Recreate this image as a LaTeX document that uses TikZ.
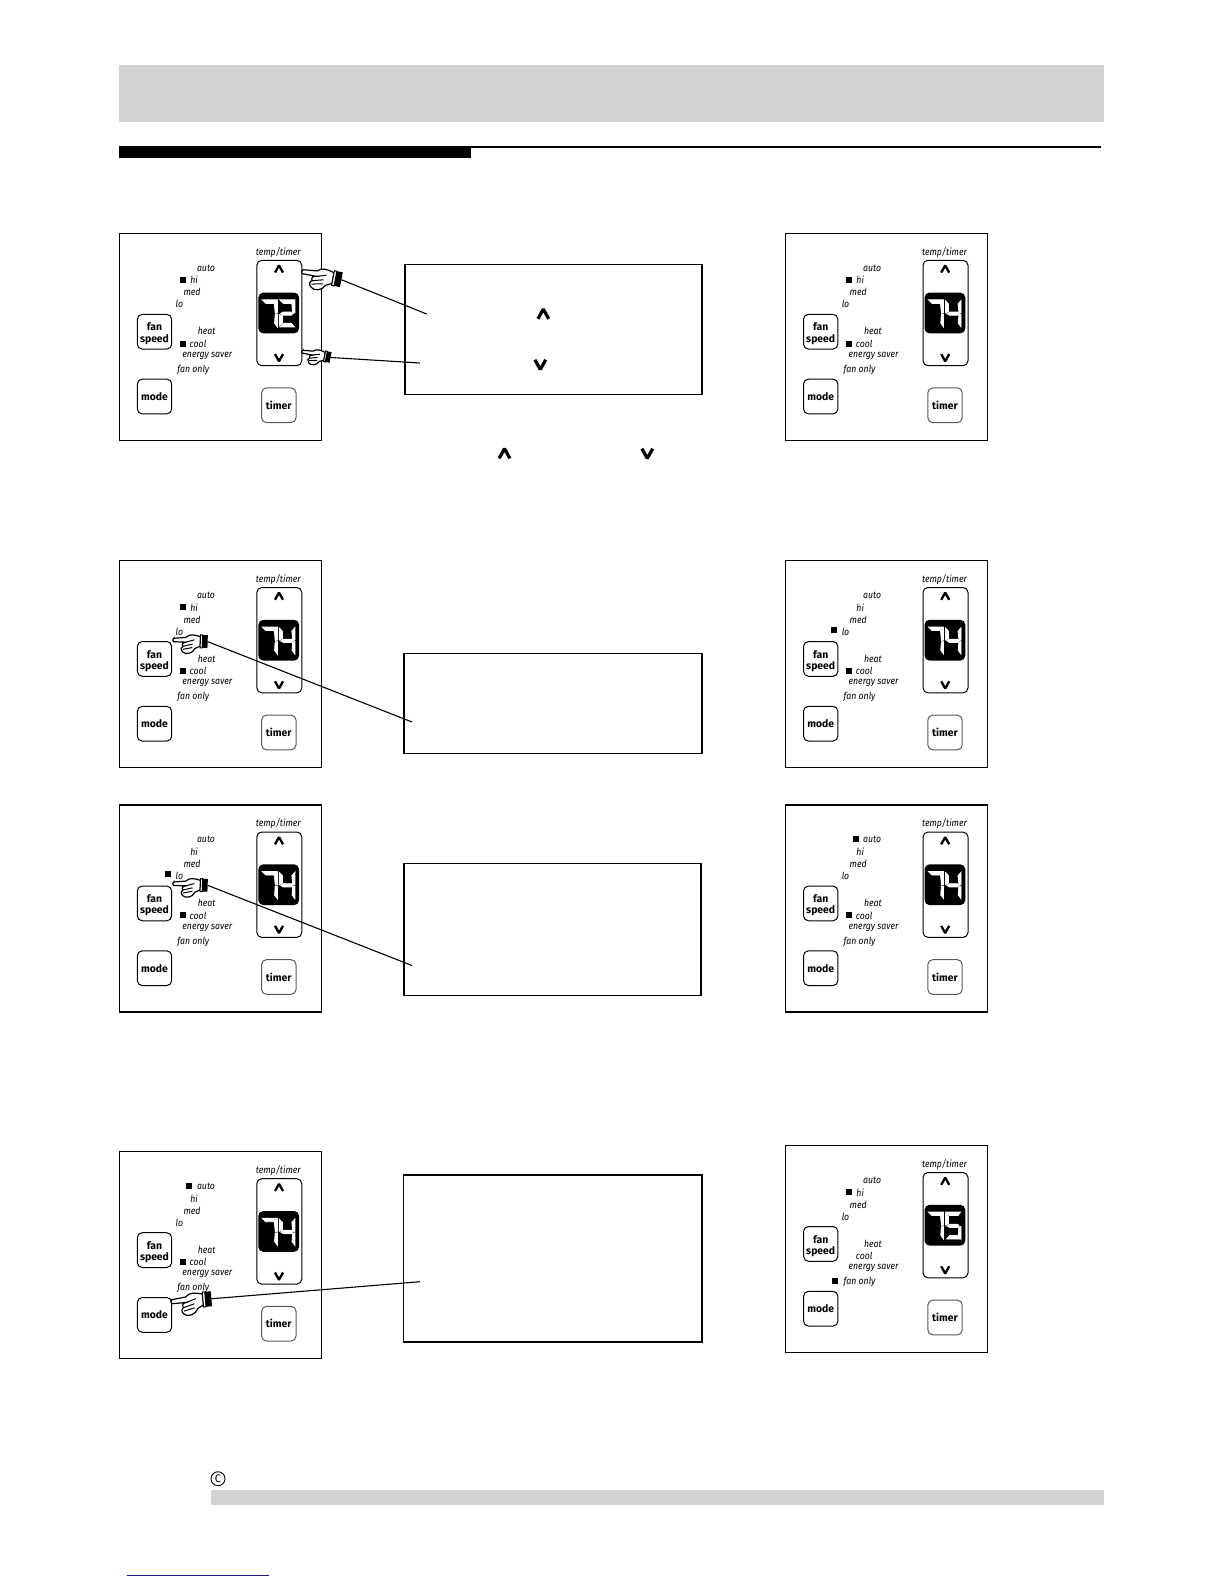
\documentclass[tikz,border=0pt]{standalone}
\usepackage{fontspec}
\setmainfont{Fira Sans}
\newfontface\panelfont{Fira Sans Italic}[FakeStretch=0.89]
\usepackage{tikz}
\usetikzlibrary{positioning,calc}
\definecolor{bargray}{HTML}{D1D2D4}
\definecolor{linkblue}{HTML}{1A1A8C}
% segments of one lcd digit
\newcommand{\lcdsega}{\fill[lcdseg] (0.5,0) -- (15,0) -- (12.5,3.5) -- (4,3.5) -- cycle;}
\newcommand{\lcdsegb}{\fill[lcdseg] (15.5,0.8) -- (15.5,13) -- (13.5,13.6) -- (12.6,4.2) -- cycle;}
\newcommand{\lcdsegc}{\fill[lcdseg] (15.5,14.6) -- (15.5,27) -- (12.8,23.4) -- (13.4,15) -- cycle;}
\newcommand{\lcdsegd}{\fill[lcdseg] (1,27) -- (15,27) -- (11.8,23.6) -- (4,23.6) -- cycle;}
\newcommand{\lcdsege}{\fill[lcdseg] (0,14.8) -- (0,26.2) -- (3,23) -- (3,16) -- cycle;}
\newcommand{\lcdsegf}{\fill[lcdseg] (0,1) -- (3,4.2) -- (3,11.6) -- (0,13) -- cycle;}
\newcommand{\lcdsegg}{\fill[lcdseg] (1.4,13.8) -- (4,12.2) -- (12,12.2) -- (13.4,13.8) -- (12,15.4) -- (4,15.4) -- cycle;}
\newcommand{\digtwo}{a,b,g,e,d}
\newcommand{\digfour}{f,g,b,c}
\newcommand{\digfive}{a,f,g,c,d}
\newcommand{\digseven}{a,b,c}
% one control panel: origin, name, digits, fan dot, mode dot
\newcommand{\ctrlpanel}[6]{
\begin{scope}[shift={(#1)},name prefix=#2-]
\node[panelbox] (frame) at (0,0) {};
\node[lab] (tt) at (159,19) {temp/timer};
\node[updown] (ud) at (160,79.7) {};
\node[display] (disp) at (159.4,79.7) {};
\pic[line width=1.15pt] at (159.7,35.7) {upmark};
\pic[line width=1.15pt] at (159.7,124.4) {downmark};
\begin{scope}[shift={(142.5,66.5)}]
\foreach \s in #3 {\csname lcdseg\s\endcsname}
\end{scope}
\begin{scope}[shift={(160,66.5)}]
\foreach \s in #4 {\csname lcdseg\s\endcsname}
\end{scope}
\node[lab] (auto) at (86.7,34.7) {auto};
\node[lab] (hi) at (74.7,46.7) {hi};
\node[lab] (med) at (72.7,59) {med};
\node[lab] (lo) at (60,71) {lo};
\node[lab] (heat) at (87.4,98) {heat};
\node[lab] (cool) at (78.7,110.4) {cool};
\node[lab] (saver) at (88,122.7) {energy saver};
\node[lab] (only) at (74,136.4) {fan only};
\node[btn] (fan) at (35.2,98.4) {\rule{0pt}{6pt}fan\\speed};
\node[btn] (mode) at (35.2,163.2) {mode};
\node[btn,draw=black!65] (timer) at (159.5,172) {timer};
\fill[black] ($(#5)+(-3,-3)$) rectangle ($(#5)+(3,3)$);
\fill[black] ($(#6)+(-3,-3)$) rectangle ($(#6)+(3,3)$);
\end{scope}
}
\tikzset{
  panelbox/.style={draw,line width=0.6pt,anchor=north west,minimum width=100.9pt,minimum height=103.5pt,outer sep=0pt},
  infobox/.style={draw,line width=0.9pt,anchor=north west,outer sep=0pt},
  updown/.style={draw,line width=0.5pt,rounded corners=2.5pt,minimum width=22.5pt,minimum height=52.7pt,inner sep=0pt},
  display/.style={fill=black,rounded corners=2.5pt,minimum width=20.4pt,minimum height=20.4pt,inner sep=0pt},
  btn/.style={draw,line width=0.5pt,rounded corners=2.5pt,minimum width=17.2pt,minimum height=17.4pt,inner sep=0pt,align=center,font=\fontsize{5.2}{5.6}\selectfont\bfseries},
  lab/.style={inner sep=0pt,font=\fontsize{4.9}{6}\panelfont},
  lcdseg/.style={white,draw=white,line width=0.45pt},
  leader/.style={line width=0.55pt},
  upmark/.pic={\draw[line join=bevel] (-4,3.6) -- (0,-3.6) -- (4,3.6);},
  downmark/.pic={\draw[line join=bevel] (-4,-3.6) -- (0,3.6) -- (4,-3.6);},
  handpic/.pic={
    \draw[fill=white,line width=0.6pt] (0,-2) -- (14,-3.5) .. controls (18,-8) and (24,-7) .. (31,-5) -- (31,6) -- (25,9)
      .. controls (23,15) and (14,17) .. (11,13.5) .. controls (8,11) and (9,7.5) .. (11,7) .. controls (9,4) and (11,2.5) .. (14,2)
      -- (0,2) .. controls (-1.5,1) and (-1.5,-1) .. cycle;
    \draw[line width=0.5pt] (14,2) -- (24,-1) (11,7) -- (22,4) (11,10.5) -- (22,8);
    \draw[fill=white,line width=0.5pt] (31,-7) rectangle (33.5,8);
    \fill[black] (33.5,-7) rectangle (39.5,8);
    \coordinate (cuff) at (39.5,0.5);
  }
}
\begin{document}
\begin{tikzpicture}[x=0.5pt,y=-0.5pt]
\useasboundingbox (0,0) rectangle (1224,1584);
% header and rule
\fill[bargray] (119,64.6) rectangle (1103.8,122.2);
\fill[black] (119,146.4) rectangle (470.6,157.5);
\fill[black] (470.6,146.4) rectangle (1100.8,148.4);
% panels, left column
\ctrlpanel{119.3,233.3}{p1}{\digseven}{\digtwo}{63.4,46.7}{63.4,110.4}
\ctrlpanel{119.3,560.5}{p2}{\digseven}{\digfour}{63.4,46.7}{63.4,110.4}
\ctrlpanel{119.3,805}{p3}{\digseven}{\digfour}{48.7,69}{63.4,110.4}
\ctrlpanel{119.3,1151.7}{p4}{\digseven}{\digfour}{70,34.3}{63.4,110.4}
% panels, right column
\ctrlpanel{785.5,233.3}{q1}{\digseven}{\digfour}{63.4,46.7}{63.4,110.4}
\ctrlpanel{785.5,560.5}{q2}{\digseven}{\digfour}{48.7,69}{63.4,110.4}
\ctrlpanel{785.5,805}{q3}{\digseven}{\digfour}{70,34.3}{63.4,110.4}
\ctrlpanel{785.5,1145.5}{q4}{\digseven}{\digfive}{63.4,46.7}{49,135.5}
% text boxes
\node[infobox,minimum width=148.5pt,minimum height=65pt] (b1) at (405.3,264.5) {};
\node[infobox,minimum width=149pt,minimum height=50pt] (b2) at (404,653.4) {};
\node[infobox,minimum width=148.5pt,minimum height=66pt] (b3) at (404,863.5) {};
\node[infobox,minimum width=149.3pt,minimum height=83.5pt] (b4) at (403.5,1175) {};
\pic[scale=1.35,line width=1.6pt] at (543.3,314) {upmark};
\pic[scale=1.35,line width=1.6pt] at (540.3,364.6) {downmark};
\pic[scale=1.35,line width=1.6pt] at (504.5,453.5) {upmark};
\pic[scale=1.35,line width=1.6pt] at (647.3,453.5) {downmark};
% hands and leaders
\coordinate (c1) at (426.7,314);
\coordinate (c2) at (420,363);
\coordinate (c3) at (412,722);
\coordinate (c4) at (412,965.5);
\coordinate (c5) at (420,1281.7);
\pic[rotate=-11] (h1) at (302.7,271.7) {handpic};
\pic[rotate=-11,scale=0.72] (h2) at (302.7,351.7) {handpic};
\pic[rotate=-2,scale=0.86] (h3) at (173.7,640) {handpic};
\pic[rotate=-2,scale=0.86] (h4) at (173.7,883.7) {handpic};
\pic[rotate=5] (h5) at (172,1301.7) {handpic};
\draw[leader] (h1cuff) -- (c1);
\draw[leader] (h2cuff) -- (c2);
\draw[leader] (h3cuff) -- (c3);
\draw[leader] (h4cuff) -- (c4);
\draw[leader] (h5cuff) -- (c5);
% footer
\node[circle,draw,line width=0.45pt,minimum size=7pt,inner sep=0pt,font=\fontsize{5.5}{6}\selectfont] (copy) at (218,1478.7) {C};
\fill[bargray] (211,1490) rectangle (1103.8,1504.7);
\draw[linkblue,line width=0.5pt] (126.7,1575.3) -- (269,1575.3);
\end{tikzpicture}
\end{document}
